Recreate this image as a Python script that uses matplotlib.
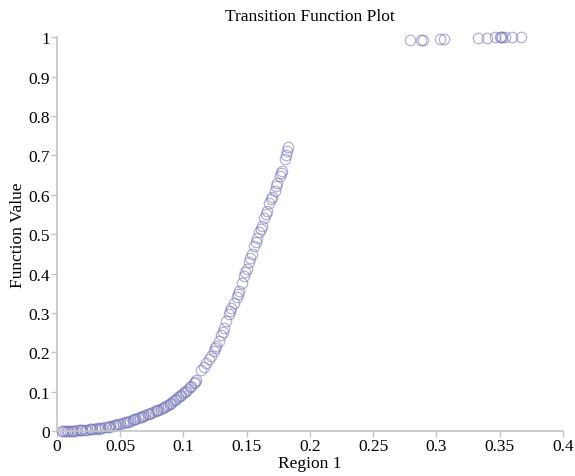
import matplotlib
matplotlib.use('Agg')
import matplotlib.pyplot as plt

# Values
region_1 = [
    0.004, 0.006, 0.008, 0.010, 0.012, 0.014, 0.016, 0.018, 0.020, 0.022,
    0.024, 0.026, 0.028, 0.030, 0.032, 0.034, 0.036, 0.038, 0.040, 0.042,
    0.044, 0.046, 0.048, 0.050, 0.052, 0.054, 0.056, 0.058, 0.060, 0.062,
    0.064, 0.066, 0.068, 0.070, 0.072, 0.074, 0.076, 0.078, 0.080, 0.082,
    0.084, 0.086, 0.088, 0.090, 0.092, 0.094, 0.096, 0.098, 0.100, 0.102,
    0.104, 0.106, 0.108, 0.110, 0.114, 0.116, 0.118, 0.120, 0.122, 0.124,
    0.126, 0.128, 0.130, 0.132, 0.134, 0.136, 0.138, 0.140, 0.142, 0.144,
    0.146, 0.148, 0.150, 0.152, 0.154, 0.156, 0.158, 0.160, 0.162, 0.164,
    0.166, 0.168, 0.170, 0.172, 0.174, 0.176, 0.178, 0.180, 0.181, 0.182,
    0.183,
    0.005, 0.009, 0.013, 0.019, 0.027, 0.033, 0.041, 0.047, 0.055, 0.061,
    0.067, 0.073, 0.079, 0.085, 0.089, 0.093, 0.097, 0.101, 0.105, 0.109,
    0.125, 0.131, 0.137, 0.143, 0.149, 0.153, 0.157, 0.161, 0.165, 0.169,
    0.173, 0.177,
    0.279, 0.288, 0.289, 0.303, 0.306, 0.333, 0.340, 0.346, 0.350, 0.351,
    0.352, 0.354, 0.360, 0.367,
]
function_value = [
    0.000, 0.000, 0.000, 0.001, 0.001, 0.001, 0.002, 0.002, 0.003, 0.003,
    0.004, 0.005, 0.005, 0.006, 0.007, 0.008, 0.009, 0.010, 0.011, 0.012,
    0.014, 0.015, 0.017, 0.019, 0.020, 0.022, 0.024, 0.026, 0.028, 0.030,
    0.033, 0.035, 0.038, 0.040, 0.043, 0.045, 0.048, 0.051, 0.054, 0.057,
    0.060, 0.064, 0.067, 0.071, 0.076, 0.081, 0.086, 0.091, 0.096, 0.102,
    0.108, 0.115, 0.122, 0.130, 0.155, 0.162, 0.172, 0.182, 0.192, 0.203,
    0.215, 0.230, 0.245, 0.262, 0.280, 0.298, 0.312, 0.325, 0.340, 0.355,
    0.375, 0.395, 0.412, 0.430, 0.450, 0.470, 0.490, 0.505, 0.520, 0.540,
    0.560, 0.580, 0.595, 0.610, 0.630, 0.648, 0.660, 0.690, 0.700, 0.710,
    0.722,
    0.000, 0.000, 0.001, 0.003, 0.005, 0.006, 0.011, 0.016, 0.022, 0.030,
    0.036, 0.043, 0.053, 0.061, 0.069, 0.079, 0.090, 0.099, 0.111, 0.126,
    0.210, 0.252, 0.305, 0.348, 0.405, 0.440, 0.480, 0.512, 0.552, 0.588,
    0.622, 0.655,
    0.992, 0.993, 0.994, 0.996, 0.996, 0.999, 0.999, 1.000, 1.000, 1.000,
    1.000, 1.000, 1.000, 1.000,
]
x_ticks = [0, 0.05, 0.1, 0.15, 0.2, 0.25, 0.3, 0.35, 0.4]
x_tick_labels = ['0', '0.05', '0.1', '0.15', '0.2', '0.25', '0.3', '0.35', '0.4']
y_ticks = [0, 0.1, 0.2, 0.3, 0.4, 0.5, 0.6, 0.7, 0.8, 0.9, 1]
y_tick_labels = ['0', '0.1', '0.2', '0.3', '0.4', '0.5', '0.6', '0.7', '0.8', '0.9', '1']


def plot_transition_function():
    plt.rcParams['font.family'] = ['Liberation Serif', 'DejaVu Serif']
    fig = plt.figure(figsize=(5.75, 4.77), dpi=100)
    ax = fig.add_axes([0.099, 0.094, 0.880, 0.826])

    ax.plot(region_1, function_value, linestyle='none', marker='o',
            markersize=7.5, markerfacecolor='none', markeredgewidth=0.9,
            markeredgecolor=(0.45, 0.45, 0.72, 0.55), clip_on=False)

    ax.set_xlim(0, 0.4)
    ax.set_ylim(0, 1)
    ax.set_xticks(x_ticks)
    ax.set_xticklabels(x_tick_labels)
    ax.set_yticks(y_ticks)
    ax.set_yticklabels(y_tick_labels)

    for side in ['top', 'right']:
        ax.spines[side].set_visible(False)
    for side in ['left', 'bottom']:
        ax.spines[side].set_color('#c4c4c4')
        ax.spines[side].set_linewidth(1.2)
    ax.tick_params(direction='out', length=4, width=1, color='#c4c4c4',
                   labelsize=12.5, pad=1)

    ax.set_xlabel('Region 1', fontsize=12.5, labelpad=1)
    ax.set_ylabel('Function Value', fontsize=12.5, labelpad=2)
    ax.set_title('Transition Function Plot', fontsize=12.5, pad=12)

    fig.savefig('out.png', dpi=100)


def main():
    plot_transition_function()


if __name__ == "__main__":
    main()
